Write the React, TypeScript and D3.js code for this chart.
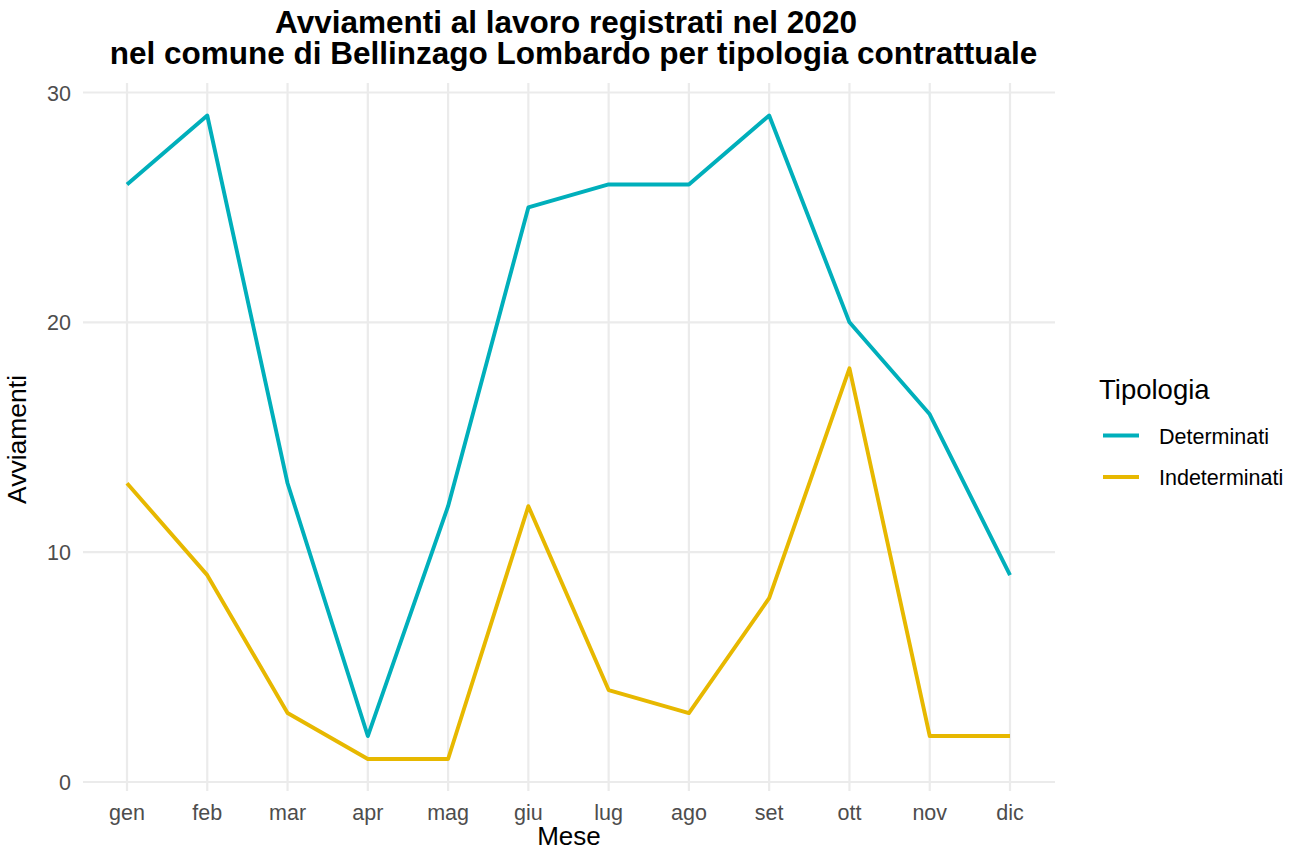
import { scalePoint, scaleLinear, line } from "d3";

const months = ["gen", "feb", "mar", "apr", "mag", "giu", "lug", "ago", "set", "ott", "nov", "dic"];
const determinati = [26, 29, 13, 2, 12, 25, 26, 26, 29, 20, 16, 9];
const indeterminati = [13, 9, 3, 1, 1, 12, 4, 3, 8, 18, 2, 2];
const yTicks = [0, 10, 20, 30];
const seriesNames = ["Determinati", "Indeterminati"];
const seriesColors = ["#00AFBB", "#E7B800"];

const W = 1301;
const H = 850;
const panel = { left: 83, right: 1055, top: 83, bottom: 791 };
const font = "'Liberation Sans', Arial, sans-serif";

export default function App() {
	const x = scalePoint<string>().domain(months).range([127, 1010]);
	const y = scaleLinear().domain([0, 30]).range([782, 92.5]);
	const series = [determinati, indeterminati];

	const path = line<number>()
		.x((_, i) => x(months[i]) ?? 0)
		.y((d) => y(d));

	return (
		<svg width={W} height={H} style={{ position: "absolute", left: 0, top: 0, background: "#fff" }} fontFamily={font}>
			<text x={566} y={33} textAnchor="middle" fontSize={31.5} fontWeight="bold">
				Avviamenti al lavoro registrati nel 2020
			</text>
			<text x={573.5} y={64} textAnchor="middle" fontSize={31.5} fontWeight="bold">
				nel comune di Bellinzago Lombardo per tipologia contrattuale
			</text>

			{yTicks.map((t) => (
				<g key={t}>
					<line x1={panel.left} x2={panel.right} y1={y(t)} y2={y(t)} stroke="#ebebeb" strokeWidth={2.2} />
					<text x={71} y={y(t) + 8} textAnchor="end" fontSize={21.5} fill="#4d4d4d">
						{t}
					</text>
				</g>
			))}
			{months.map((m) => (
				<g key={m}>
					<line x1={x(m)} x2={x(m)} y1={panel.top} y2={panel.bottom} stroke="#ebebeb" strokeWidth={2.2} />
					<text x={x(m)} y={820} textAnchor="middle" fontSize={21.5} fill="#4d4d4d">
						{m}
					</text>
				</g>
			))}

			{series.map((s, i) => (
				<path key={i} d={path(s) ?? ""} fill="none" stroke={seriesColors[i]} strokeWidth={3.9} strokeLinejoin="round" />
			))}

			<text x={569} y={845} textAnchor="middle" fontSize={26}>
				Mese
			</text>
			<text transform="translate(26,439.5) rotate(-90)" textAnchor="middle" fontSize={26.5}>
				Avviamenti
			</text>

			<text x={1099} y={399} fontSize={27.5}>
				Tipologia
			</text>
			{seriesNames.map((n, i) => (
				<g key={n}>
					<line x1={1103} x2={1139} y1={435.5 + i * 41.5} y2={435.5 + i * 41.5} stroke={seriesColors[i]} strokeWidth={3.9} />
					<text x={1159} y={444 + i * 41} fontSize={21.5}>
						{n}
					</text>
				</g>
			))}
		</svg>
	);
}
